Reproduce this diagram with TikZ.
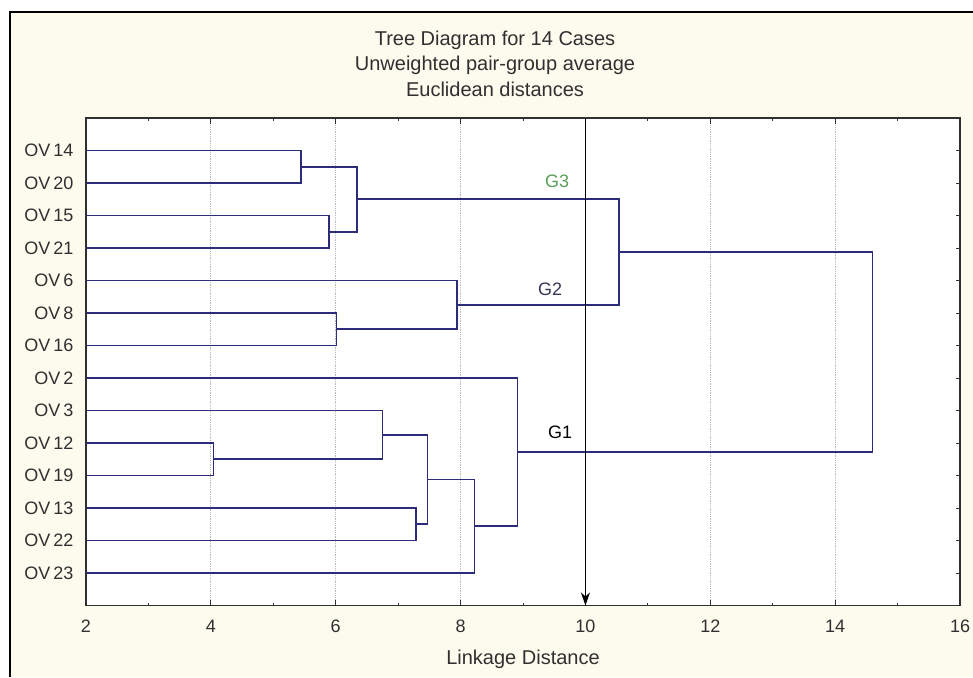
\documentclass[tikz,border=0pt]{standalone}
\usepackage{fontspec}
\setmainfont{Liberation Sans}
\usetikzlibrary{arrows.meta}
\definecolor{cream}{RGB}{253,250,238}
\definecolor{branchblue}{RGB}{44,44,122}
\definecolor{gthree}{RGB}{88,160,88}
\definecolor{gtwo}{RGB}{52,52,86}
\definecolor{labgray}{RGB}{48,48,48}
\begin{document}
\begin{tikzpicture}[x=1pt,y=-1pt,
  branch/.style={branchblue,line width=1.6pt},
  gridline/.style={gray!55,densely dotted,line width=0.8pt},
  leaflab/.style={anchor=east,labgray,font=\fontsize{18}{20}\selectfont,xshift=-9pt},
  ticklab/.style={labgray,font=\fontsize{18}{20}\selectfont},
  titlelab/.style={labgray,font=\fontsize{20}{22}\selectfont},
  grouplab/.style={font=\fontsize{18}{20}\selectfont}]
\useasboundingbox (0,0) rectangle (973,677);
\fill[white] (0,0) rectangle (973,677);
\fill[cream] (10,12) rectangle (973,677);
\draw[line width=1.2pt] (973,12) -- (10,12) -- (10,677);
% titles
\node[titlelab] (t1) at (495,40) {Tree Diagram for 14 Cases};
\node[titlelab] (t2) at (495,65) {Unweighted pair-group average};
\node[titlelab] (t3) at (495,89) {Euclidean distances};
\node[titlelab] (xlab) at (523,659) {Linkage Distance};
% plot in distance / case units
\begin{scope}[x=62.43pt,y=-32.5pt,shift={(-38.86pt,-118pt)}]
\fill[white] (2,0) rectangle (16,15);
\foreach \x in {4,6,...,14}
  \draw[gridline] (\x,0) -- (\x,15);
\foreach \x in {4,6,...,14}
  \draw[labgray,line width=1pt] (\x,15) -- ++(0pt,6pt) (\x,0) -- ++(0pt,-6pt);
\foreach \x in {3,5,...,15}
  \draw[labgray,line width=1pt] (\x,15) -- ++(0pt,3pt) (\x,0) -- ++(0pt,-3pt);
\foreach \r in {1,...,14}
  \draw[labgray,line width=1pt] (16,\r) -- ++(-4pt,0pt);
\foreach \x in {2,4,...,16}
  \node[ticklab,yshift=-21pt] (x\x) at (\x,15) {\x};
% cases
\foreach \n [count=\r] in {14,20,15,21,6,8,16,2,3,12,19,13,22,23}{
  \coordinate (v\n) at (2,\r);
  \node[leaflab] (ov\n) at (v\n) {OV\,\n};
}
% joins
\coordinate (m1) at (5.44,1.5);
\coordinate (m2) at (5.89,3.5);
\coordinate (m3) at (6.34,2.5);
\coordinate (m4) at (6.01,6.5);
\coordinate (m5) at (7.94,5.75);
\coordinate (m6) at (10.54,4.125);
\coordinate (m7) at (4.04,10.5);
\coordinate (m8) at (6.75,9.75);
\coordinate (m9) at (7.29,12.5);
\coordinate (m10) at (7.47,11.125);
\coordinate (m11) at (8.22,12.5625);
\coordinate (m12) at (8.91,10.28);
\coordinate (m13) at (14.6,7.2);
\draw[branch] (v14) -| (m1) |- (v20);
\draw[branch] (v15) -| (m2) |- (v21);
\draw[branch] (m1) -| (m3) |- (m2);
\draw[branch] (v8) -| (m4) |- (v16);
\draw[branch] (v6) -| (m5) |- (m4);
\draw[branch] (m3) -| (m6) |- (m5);
\draw[branch] (v12) -| (m7) |- (v19);
\draw[branch] (v3) -| (m8) |- (m7);
\draw[branch] (v13) -| (m9) |- (v22);
\draw[branch] (m8) -| (m10) |- (m9);
\draw[branch] (m10) -| (m11) |- (v23);
\draw[branch] (v2) -| (m12) |- (m11);
\draw[branch] (m6) -| (m13) |- (m12);
% cut at 10
\coordinate (cutTop) at (10,0);
\coordinate (cutBot) at (10,15);
\draw[line width=1.5pt,-{Stealth[length=13pt,width=9pt,inset=4pt]}] (cutTop) -- (cutBot);
\draw[labgray,line width=1.8pt] (2,0) rectangle (16,15);
\end{scope}
\node[grouplab,gthree] (g3) at (557,181) {G3};
\node[grouplab,gtwo] (g2) at (550,289) {G2};
\node[grouplab,black] (g1) at (560,432) {G1};
\end{tikzpicture}
\end{document}
